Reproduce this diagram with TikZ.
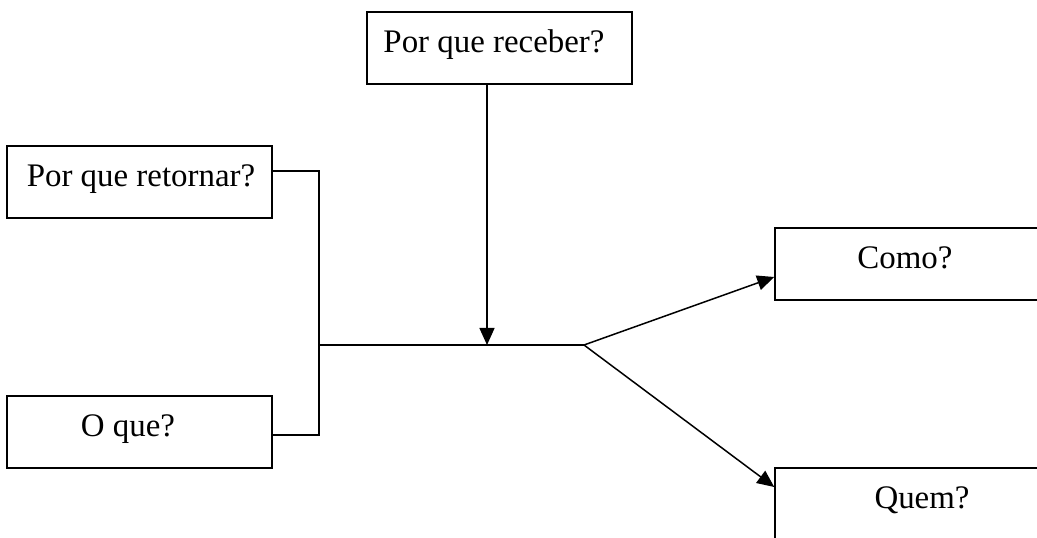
\documentclass[tikz,border=0pt]{standalone}
\usepackage{fontspec}
\setmainfont{Liberation Serif}
\usetikzlibrary{arrows.meta,calc}
\begin{document}
\begin{tikzpicture}[x=1pt,y=1pt,
  box/.style={draw,line width=1.5pt,minimum height=72pt,inner sep=0pt},
  txt/.style={anchor=base,inner sep=0pt,font=\fontsize{32.9}{40}\selectfont},
  conn/.style={line width=1.5pt},
  arr/.style={line width=1.5pt,-{Triangle[length=17pt,width=15pt]}}]
\useasboundingbox (0,0) rectangle (1037,538);
\clip (0,0) rectangle (1037,538);
% boxes
\node[box,minimum width=265pt] (top) at (499.5,490) {};
\node[box,minimum width=265pt] (r1) at (139.5,356) {};
\node[box,minimum width=265pt] (oq) at (139.5,106) {};
\node[box,minimum width=280pt] (como) at (915,274) {};
\node[box,minimum width=280pt] (quem) at (915,34) {};
% texts
\node[txt] (ttop) at (494,485) {Por que receber?};
\node[txt] (tr1) at (141,351) {Por que retornar?};
\node[txt] (toq) at (128,101) {O que?};
\node[txt] (tcomo) at (905,269) {Como?};
\node[txt] (tquem) at (922,29) {Quem?};
% junctions
\coordinate (jv) at (319,193);
\coordinate (hm) at (487,193);
\coordinate (hr) at (584,193);
% connectors
\draw[conn] ($(r1.east)+(0,11)$) -| (jv);
\draw[conn] ($(oq.east)+(0,-3)$) -| (jv);
\draw[conn] (jv) -- (hr);
\draw[arr] ($(top.south)+(-12.5,0)$) -- (hm);
\draw[arr] (hr) -- ($(como.west)+(0,-13)$);
\draw[arr] (hr) -- ($(quem.west)+(0,17)$);
\end{tikzpicture}
\end{document}
